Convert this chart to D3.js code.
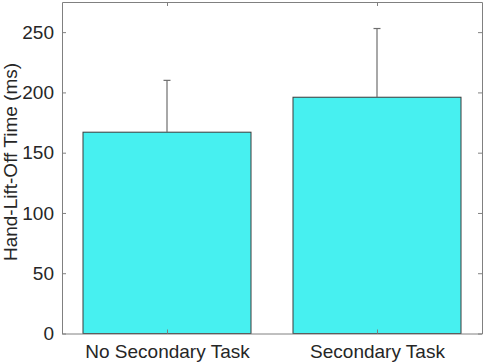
<!DOCTYPE html>
<html>
<head>
<meta charset="utf-8">
<script src="https://cdn.jsdelivr.net/npm/d3@7"></script>
<style>
  body { margin: 0; background: #fff; }
  text { font-family: "Liberation Sans", Arial, sans-serif; }
</style>
</head>
<body>
<div id="main"></div>
<script>
// data
const categories = ["No Secondary Task", "Secondary Task"];
const means = [167, 196];
const errUpper = [210, 253];
const yTicks = [0, 50, 100, 150, 200, 250];

let width = 484;
let height = 364;
let mLeft = 62, mRight = 482, mTop = 2, mBottom = 333.5;

let svg = d3.select("#main")
            .append("svg")
            .attr("width", width)
            .attr("height", height);

// xlim [0.5, 2.5] like matlab bar()
const xScale = d3.scaleLinear().domain([0.5, 2.5]).range([mLeft, mRight]);
const yScale = d3.scaleLinear().domain([0, 275]).range([mBottom, mTop]);
const barW = xScale(0.8) - xScale(0);

// bars
svg.selectAll("rect.bar")
   .data(means)
   .enter()
   .append("rect")
   .attr("class", "bar")
   .attr("x", (d, i) => xScale(i + 1) - barW / 2)
   .attr("y", d => yScale(d))
   .attr("width", barW)
   .attr("height", d => yScale(0) - yScale(d))
   .style("fill", "#47f0f0")
   .style("stroke", "#3a3a3a")
   .style("stroke-width", 1);

// error bars (upper only)
let err = svg.append("g").attr("class", "errors");
means.forEach((m, i) => {
    let cx = xScale(i + 1);
    err.append("line")
       .attr("x1", cx).attr("x2", cx)
       .attr("y1", yScale(m)).attr("y2", yScale(errUpper[i]))
       .style("stroke", "#6e6e6e").style("stroke-width", 1.2);
    err.append("line")
       .attr("x1", cx - 3.5).attr("x2", cx + 3.5)
       .attr("y1", yScale(errUpper[i])).attr("y2", yScale(errUpper[i]))
       .style("stroke", "#6e6e6e").style("stroke-width", 1.2);
});

// axes
let yAxis = d3.axisLeft(yScale).tickValues(yTicks).tickSizeInner(-4).tickSizeOuter(0).tickPadding(8);
let yAxisR = d3.axisRight(yScale).tickValues(yTicks).tickSizeInner(-4).tickSizeOuter(0).tickFormat("");
let xAxis = d3.axisBottom(xScale).tickValues([1, 2]).tickFormat((d) => categories[d - 1])
              .tickSizeInner(-4).tickSizeOuter(0).tickPadding(11);
let xAxisT = d3.axisTop(xScale).tickValues([1, 2]).tickSizeInner(-4).tickSizeOuter(0).tickFormat("");

function styleAxis(g) {
    g.select(".domain").style("stroke", "#808080");
    g.selectAll(".tick line").style("stroke", "#808080");
    g.selectAll(".tick text").style("fill", "#262626").style("font-size", "19px");
}

svg.append("g").attr("transform", `translate(${mLeft},0)`).call(yAxis).call(styleAxis);
svg.append("g").attr("transform", `translate(${mRight},0)`).call(yAxisR).call(styleAxis);
svg.append("g").attr("transform", `translate(0,${mBottom})`).call(xAxis).call(styleAxis);
svg.append("g").attr("transform", `translate(0,${mTop})`).call(xAxisT).call(styleAxis);

// y label
svg.append("text")
   .attr("transform", `translate(17,162) rotate(-90)`)
   .attr("text-anchor", "middle")
   .style("font-size", "19px")
   .style("fill", "#262626")
   .text("Hand-Lift-Off Time (ms)");
</script>
</body>
</html>
